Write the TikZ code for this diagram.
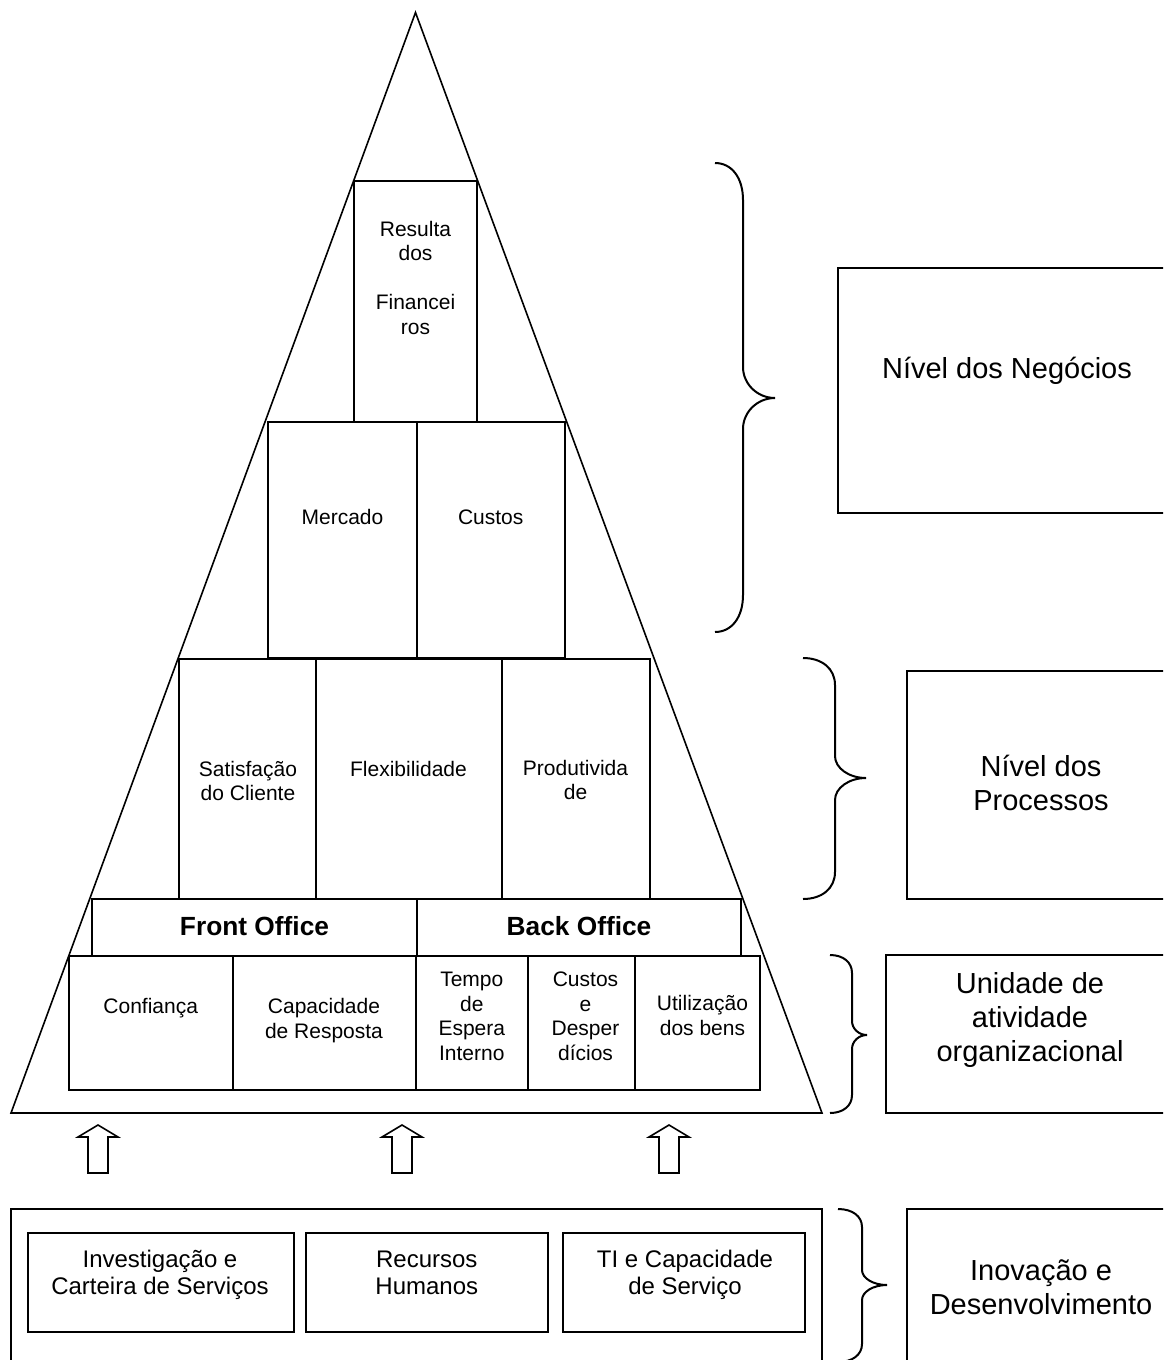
\documentclass[tikz,border=0pt]{standalone}
\usepackage{fontspec}
\setmainfont{Liberation Sans}
\newcommand\stk[1]{\begin{tabular}[t]{@{}c@{}}#1\end{tabular}}
% xl xs xt ytop ytip ybot r r2
\newcommand\mybrace[8]{%
  \draw[brc] (#1,#4) .. controls ({#1+0.6*(#2-#1)},#4) and (#2,{#4+0.4*#7}) .. (#2,{#4+#7})
    -- (#2,{#5-#8}) .. controls (#2,{#5-0.45*#8}) and ({#2+0.45*(#3-#2)},#5) .. (#3,#5)
    .. controls ({#2+0.45*(#3-#2)},#5) and (#2,{#5+0.45*#8}) .. (#2,{#5+#8})
    -- (#2,{#6-#7}) .. controls (#2,{#6-0.4*#7}) and ({#1+0.6*(#2-#1)},#6) .. (#1,#6);}
\newcommand\uparr[1]{%
  \draw[harrow] ({#1-10},1173) -- ({#1-10},1137) -- ({#1-20},1137) -- (#1,1125)
    -- ({#1+20},1137) -- ({#1+10},1137) -- ({#1+10},1173) -- cycle;}
\tikzset{
  cell/.style={draw, line width=2pt, inner sep=0pt, outer sep=0pt, anchor=north west},
  lbl/.style={inner sep=0pt, anchor=base, font=\fontsize{21}{24.5}\selectfont},
  big/.style={inner sep=0pt, anchor=base, font=\fontsize{29}{34}\selectfont},
  mid/.style={inner sep=0pt, anchor=base, font=\fontsize{24}{27}\selectfont},
  boldlbl/.style={inner sep=0pt, anchor=base, font=\fontsize{26.3}{30}\selectfont\bfseries},
  brc/.style={line width=2pt},
  tri/.style={line width=1.6pt},
  harrow/.style={draw, line width=1.6pt, fill=white, line join=miter}
}
\begin{document}
\begin{tikzpicture}[x=1pt,y=-1pt]
\useasboundingbox (0,0) rectangle (1163,1360);
\clip (0,0) rectangle (1163,1360);

% pyramid
\coordinate (apex) at (415.5,12.5);
\coordinate (br) at (822,1113);
\coordinate (bl) at (11,1113);
\draw[tri] (apex) -- (br) -- (bl) -- cycle;

% cells inside the pyramid
\node[cell, minimum width=123.5pt, minimum height=241pt] (res) at (353.5,181) {};
\node[cell, minimum width=149pt, minimum height=236pt] (merc) at (268,422) {};
\node[cell, minimum width=147.5pt, minimum height=236pt] (cust) at (417,422) {};
\node[cell, minimum width=137pt, minimum height=240.5pt] (sat) at (179,658.5) {};
\node[cell, minimum width=185.5pt, minimum height=240.5pt] (flex) at (316,658.5) {};
\node[cell, minimum width=148pt, minimum height=240.5pt] (prod) at (501.5,658.5) {};
\node[cell, minimum width=325.5pt, minimum height=56.5pt] (front) at (91.5,899) {};
\node[cell, minimum width=323.5pt, minimum height=56.5pt] (back) at (417,899) {};
\node[cell, minimum width=164.5pt, minimum height=134.5pt] (conf) at (68.5,955.5) {};
\node[cell, minimum width=183pt, minimum height=134.5pt] (capr) at (233,955.5) {};
\node[cell, minimum width=112pt, minimum height=134.5pt] (temp) at (416,955.5) {};
\node[cell, minimum width=107pt, minimum height=134.5pt] (cdes) at (528,955.5) {};
\node[cell, minimum width=125pt, minimum height=134.5pt] (util) at (635,955.5) {};

\node[lbl] (tres) at (415.5,236) {\stk{Resulta\\dos\\ \\Financei\\ros}};
\node[lbl] (tmerc) at (342.5,524) {Mercado};
\node[lbl] (tcust) at (490.7,524) {Custos};
\node[lbl] (tsat) at (248,776) {\stk{Satisfação\\do Cliente}};
\node[lbl] (tflex) at (408.5,776) {Flexibilidade};
\node[lbl] (tprod) at (575.5,775) {\stk{Produtivida\\de}};
\node[boldlbl] (tfront) at (254.5,935) {Front Office};
\node[boldlbl] (tback) at (579,935) {Back Office};
\node[lbl] (tconf) at (150.7,1013.5) {Confiança};
\node[lbl] (tcapr) at (324,1013.5) {\stk{Capacidade\\de Resposta}};
\node[lbl] (ttemp) at (471.8,986.7) {\stk{Tempo\\de\\Espera\\Interno}};
\node[lbl] (tcdes) at (585.5,986.7) {\stk{Custos\\e\\Desper\\dícios}};
\node[lbl] (tutil) at (702.5,1010.7) {\stk{Utilização\\dos bens}};

% arrows
\uparr{98}
\uparr{402}
\uparr{669}

% bottom block
\node[cell, minimum width=811pt, minimum height=160pt] (base) at (11,1209) {};
\node[cell, minimum width=266pt, minimum height=99pt] (inv) at (28.3,1232.7) {};
\node[cell, minimum width=241.7pt, minimum height=99pt] (rh) at (306,1232.7) {};
\node[cell, minimum width=241.7pt, minimum height=99pt] (ti) at (563.3,1232.7) {};
\node[mid] (tinv) at (160,1267.7) {\stk{Investigação e\\Carteira de Serviços}};
\node[mid] (trh) at (426.8,1267.7) {\stk{Recursos\\Humanos}};
\node[mid] (tti) at (685,1267.7) {\stk{TI e Capacidade\\de Serviço}};

% braces
\mybrace{715}{743}{775}{163}{398}{632}{37}{31}
\mybrace{803}{835}{866}{658}{778}{899}{27}{22}
\mybrace{830}{852}{867}{955}{1035}{1113}{18}{14}
\mybrace{838}{862}{887}{1209}{1285}{1362}{18}{15}

% level boxes
\node[cell, minimum width=332pt, minimum height=245pt] (neg) at (838,268) {};
\node[cell, minimum width=263pt, minimum height=228pt] (proc) at (907,671) {};
\node[cell, minimum width=284pt, minimum height=158pt] (unid) at (886,955) {};
\node[cell, minimum width=263pt, minimum height=160pt] (inov) at (907,1209) {};
\node[big] (tneg) at (1007,378.3) {Nível dos Negócios};
\node[big] (tproc) at (1041,776.7) {\stk{Nível dos\\Processos}};
\node[big] (tunid) at (1030,993.3) {\stk{Unidade de\\atividade\\organizacional}};
\node[big] (tinov) at (1041,1280.7) {\stk{Inovação e\\Desenvolvimento}};
\end{tikzpicture}
\end{document}
